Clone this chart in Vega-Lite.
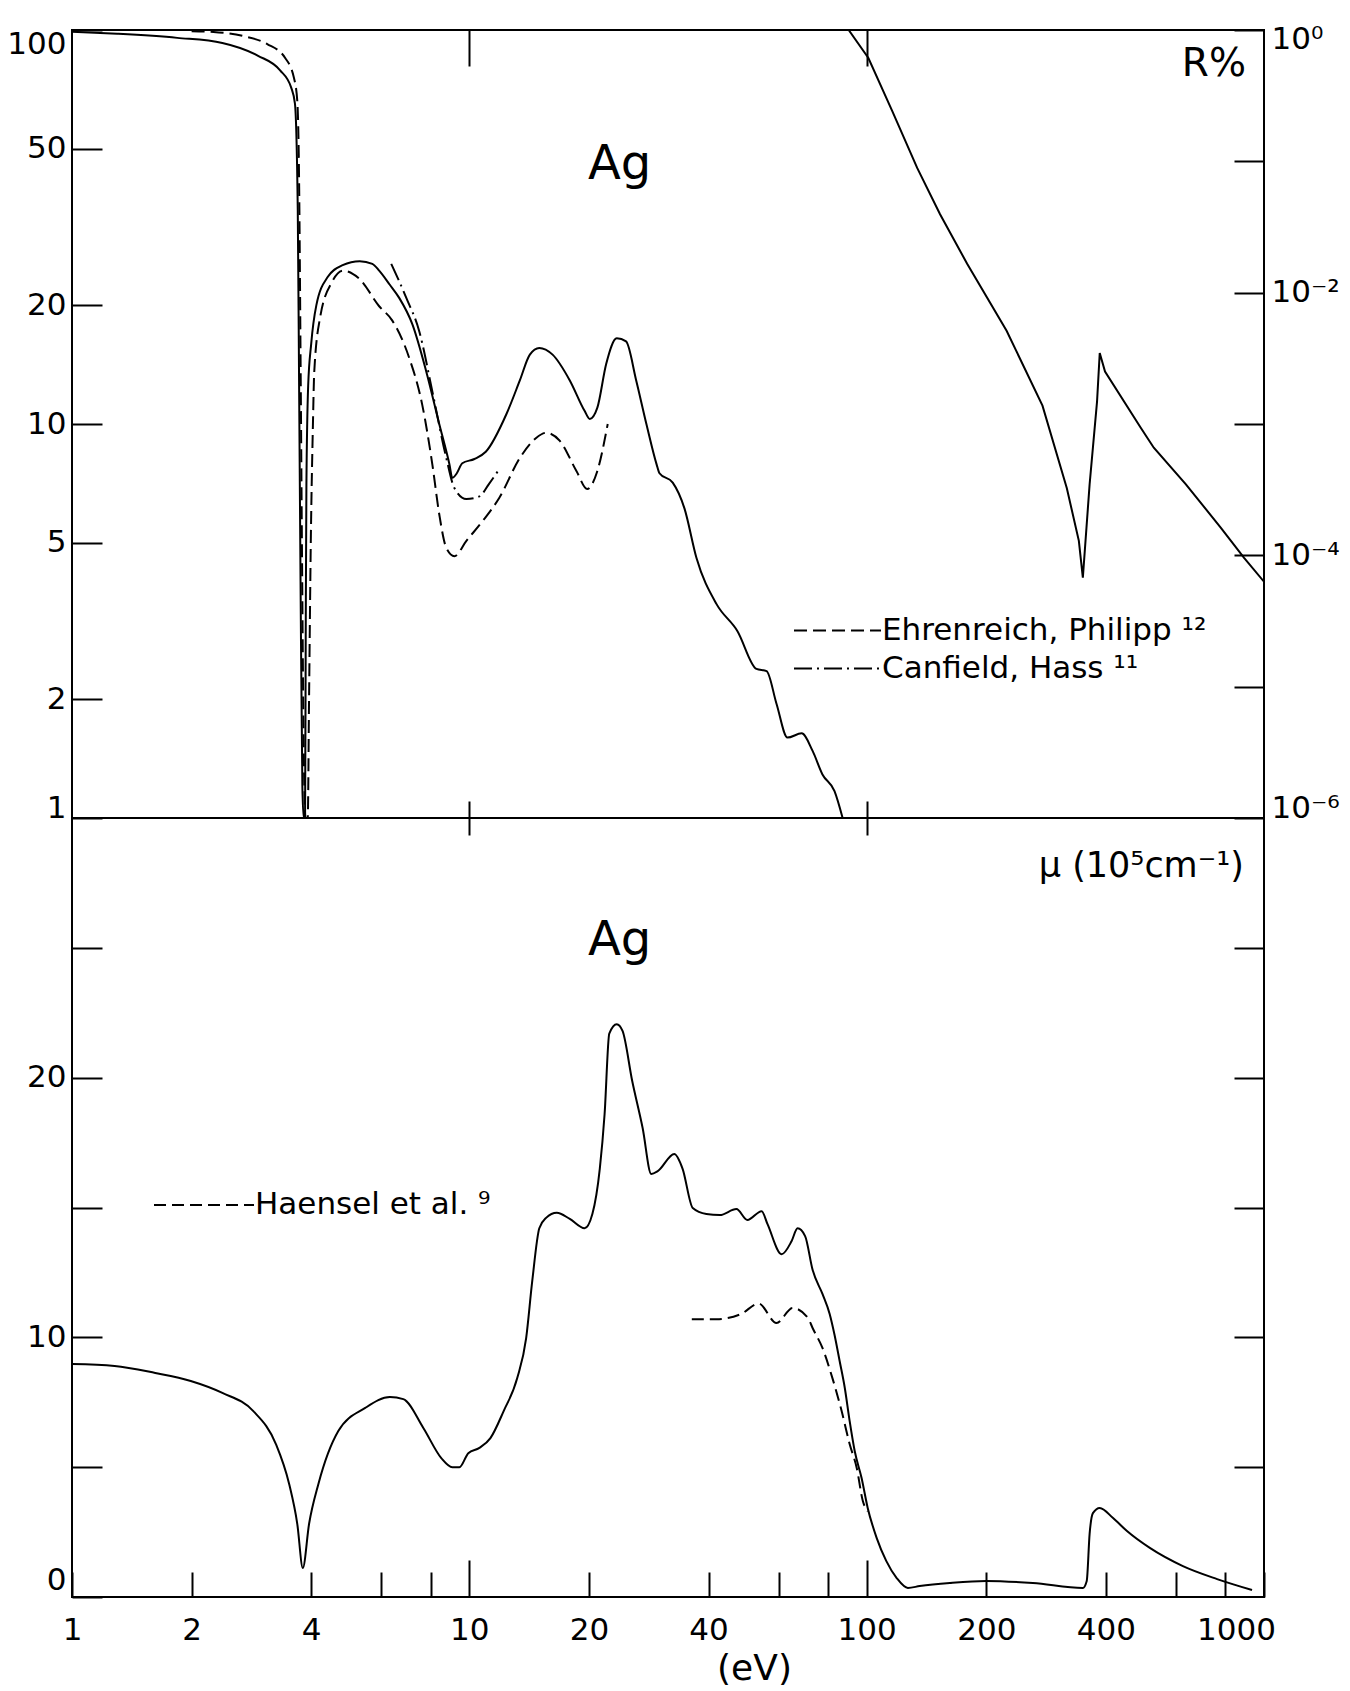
{
  "$schema": "https://vega.github.io/schema/vega-lite/v6.json",
  "background": "white",
  "padding": {"left": 5, "top": 22, "right": 5, "bottom": 5},
  "spacing": 0,
  "bounds": "flush",
  "config": {
    "font": "DejaVu Sans",
    "view": {"stroke": "black", "strokeWidth": 2},
    "axis": {"domain": false, "grid": false, "tickColor": "black", "tickWidth": 2, "labelColor": "black", "labelFontSize": 31, "labelFont": "DejaVu Sans", "titleColor": "black", "labelFlush": false, "labelOverlap": false, "labelBound": false},
    "line": {"color": "black", "strokeWidth": 2},
    "text": {"color": "black"},
    "legend": {"title": null, "orient": "none", "symbolType": "stroke", "symbolStrokeWidth": 2, "symbolStrokeColor": "black", "labelFontSize": 31, "labelFont": "DejaVu Sans", "labelColor": "black", "labelOffset": 0, "labelLimit": 800, "padding": 0}
  },
  "datasets": {
    "upperCalc": [
      {"E": 1.0, "R": 99}, {"E": 1.3, "R": 97.8}, {"E": 1.84, "R": 95.5}, {"E": 2.39, "R": 92.7}, {"E": 2.94, "R": 86}, {"E": 3.34, "R": 79}, {"E": 3.56, "R": 71.5}, {"E": 3.64, "R": 65}, {"E": 3.70, "R": 35}, {"E": 3.73, "R": 12}, {"E": 3.76, "R": 4}, {"E": 3.80, "R": 1.2}, {"E": 3.83, "R": 1.0}, {"E": 3.86, "R": 1.0}, {"E": 3.875, "R": 3}, {"E": 3.89, "R": 7}, {"E": 3.93, "R": 12.5}, {"E": 4.0, "R": 16}, {"E": 4.12, "R": 20}, {"E": 4.4, "R": 23.6}, {"E": 4.8, "R": 25.3}, {"E": 5.3, "R": 25.9}, {"E": 5.7, "R": 25.5}, {"E": 5.93, "R": 24.5}, {"E": 6.3, "R": 22.6}, {"E": 6.66, "R": 20.9}, {"E": 7.19, "R": 17.9}, {"E": 7.79, "R": 13.6}, {"E": 8.4, "R": 10}, {"E": 8.91, "R": 7.9}, {"E": 9.06, "R": 7.3}, {"E": 9.3, "R": 7.5}, {"E": 9.6, "R": 7.95}, {"E": 10.3, "R": 8.15}, {"E": 11.0, "R": 8.5}, {"E": 12.4, "R": 10.6}, {"E": 13.4, "R": 12.9}, {"E": 14.2, "R": 15.0}, {"E": 15.0, "R": 15.6}, {"E": 16.2, "R": 15.0}, {"E": 17.9, "R": 12.9}, {"E": 19.5, "R": 10.8}, {"E": 20.1, "R": 10.3}, {"E": 21.0, "R": 11.0}, {"E": 22.1, "R": 14.2}, {"E": 23.5, "R": 16.5}, {"E": 24.8, "R": 16.2}, {"E": 26.3, "R": 12.9}, {"E": 27.9, "R": 10.0}, {"E": 29.6, "R": 7.9}, {"E": 30.1, "R": 7.5}, {"E": 32.5, "R": 7.1}, {"E": 34.8, "R": 6.1}, {"E": 37.3, "R": 4.57}, {"E": 41.9, "R": 3.49}, {"E": 47.3, "R": 2.98}, {"E": 52.8, "R": 2.39}, {"E": 56, "R": 2.36}, {"E": 59.3, "R": 1.95}, {"E": 63.2, "R": 1.6}, {"E": 68.6, "R": 1.64}, {"E": 73.1, "R": 1.48}, {"E": 77.4, "R": 1.29}, {"E": 83.0, "R": 1.17}, {"E": 87.0, "R": 1.0}
    ],
    "upperEP": [
      {"E": 2.0, "R": 99.3, "src": "EP"}, {"E": 2.27, "R": 98.9, "src": "EP"}, {"E": 2.7, "R": 96.5, "src": "EP"}, {"E": 3.1, "R": 92.1, "src": "EP"}, {"E": 3.44, "R": 84.9, "src": "EP"}, {"E": 3.62, "R": 75.5, "src": "EP"}, {"E": 3.69, "R": 66, "src": "EP"}, {"E": 3.73, "R": 40, "src": "EP"}, {"E": 3.76, "R": 15, "src": "EP"}, {"E": 3.79, "R": 5, "src": "EP"}, {"E": 3.83, "R": 1.5, "src": "EP"}, {"E": 3.87, "R": 1.0, "src": "EP"}, {"E": 3.92, "R": 1.0, "src": "EP"}, {"E": 3.95, "R": 2, "src": "EP"}, {"E": 3.99, "R": 5, "src": "EP"}, {"E": 4.04, "R": 10, "src": "EP"}, {"E": 4.07, "R": 13.5, "src": "EP"}, {"E": 4.21, "R": 18.6, "src": "EP"}, {"E": 4.52, "R": 23.0, "src": "EP"}, {"E": 4.81, "R": 24.5, "src": "EP"}, {"E": 5.3, "R": 23.3, "src": "EP"}, {"E": 5.93, "R": 19.9, "src": "EP"}, {"E": 6.4, "R": 18.3, "src": "EP"}, {"E": 7.06, "R": 14.7, "src": "EP"}, {"E": 7.61, "R": 11.2, "src": "EP"}, {"E": 8.07, "R": 7.9, "src": "EP"}, {"E": 8.4, "R": 5.9, "src": "EP"}, {"E": 8.75, "R": 4.85, "src": "EP"}, {"E": 9.17, "R": 4.62, "src": "EP"}, {"E": 9.83, "R": 5.05, "src": "EP"}, {"E": 10.8, "R": 5.67, "src": "EP"}, {"E": 11.9, "R": 6.5, "src": "EP"}, {"E": 13.4, "R": 8.2, "src": "EP"}, {"E": 14.7, "R": 9.2, "src": "EP"}, {"E": 15.6, "R": 9.5, "src": "EP"}, {"E": 16.9, "R": 9.06, "src": "EP"}, {"E": 18.6, "R": 7.6, "src": "EP"}, {"E": 19.8, "R": 6.84, "src": "EP"}, {"E": 21.0, "R": 7.6, "src": "EP"}, {"E": 22.3, "R": 10, "src": "EP"}
    ],
    "upperCH": [
      {"E": 6.36, "R": 25.5, "src": "CH"}, {"E": 6.94, "R": 20.9, "src": "CH"}, {"E": 7.48, "R": 17.2, "src": "CH"}, {"E": 8.07, "R": 12.1, "src": "CH"}, {"E": 8.75, "R": 8.2, "src": "CH"}, {"E": 9.17, "R": 6.88, "src": "CH"}, {"E": 9.83, "R": 6.45, "src": "CH"}, {"E": 10.6, "R": 6.55, "src": "CH"}, {"E": 11.2, "R": 7.04, "src": "CH"}, {"E": 11.9, "R": 7.69, "src": "CH"}
    ],
    "upperR": [
      {"E": 90.1, "Rf": 1.0}, {"E": 101, "Rf": 0.612}, {"E": 116, "Rf": 0.2415}, {"E": 134, "Rf": 0.0891}, {"E": 153, "Rf": 0.0396}, {"E": 179, "Rf": 0.0166}, {"E": 225, "Rf": 0.00513}, {"E": 277, "Rf": 0.00138}, {"E": 319, "Rf": 0.000324}, {"E": 342, "Rf": 0.000129}, {"E": 350, "Rf": 0.0000676}, {"E": 364, "Rf": 0.000347}, {"E": 380, "Rf": 0.00148}, {"E": 386, "Rf": 0.00347}, {"E": 398, "Rf": 0.00251}, {"E": 490, "Rf": 0.000933}, {"E": 528, "Rf": 0.00066}, {"E": 636, "Rf": 0.000347}, {"E": 779, "Rf": 0.000162}, {"E": 891, "Rf": 0.0000955}, {"E": 1000, "Rf": 0.000063}
    ],
    "lowerCalc": [
      {"E": 1.0, "mu": 8.97}, {"E": 1.28, "mu": 8.9}, {"E": 1.62, "mu": 8.63}, {"E": 1.99, "mu": 8.32}, {"E": 2.39, "mu": 7.86}, {"E": 2.86, "mu": 7.16}, {"E": 3.26, "mu": 5.89}, {"E": 3.52, "mu": 4.35}, {"E": 3.69, "mu": 2.81}, {"E": 3.81, "mu": 1.12}, {"E": 3.95, "mu": 2.81}, {"E": 4.17, "mu": 4.35}, {"E": 4.68, "mu": 6.39}, {"E": 5.47, "mu": 7.28}, {"E": 6.31, "mu": 7.7}, {"E": 6.82, "mu": 7.62}, {"E": 7.66, "mu": 6.51}, {"E": 8.5, "mu": 5.35}, {"E": 9.06, "mu": 5.0}, {"E": 9.44, "mu": 5.0}, {"E": 9.94, "mu": 5.54}, {"E": 10.6, "mu": 5.74}, {"E": 11.3, "mu": 6.12}, {"E": 12.2, "mu": 7.16}, {"E": 13.2, "mu": 8.43}, {"E": 13.9, "mu": 9.97}, {"E": 14.4, "mu": 12.17}, {"E": 15.0, "mu": 14.2}, {"E": 15.6, "mu": 14.6}, {"E": 16.6, "mu": 14.8}, {"E": 17.9, "mu": 14.56}, {"E": 19.5, "mu": 14.2}, {"E": 20.4, "mu": 14.75}, {"E": 21.3, "mu": 16.5}, {"E": 21.9, "mu": 18.6}, {"E": 22.5, "mu": 21.7}, {"E": 23.5, "mu": 22.06}, {"E": 24.3, "mu": 21.8}, {"E": 25.7, "mu": 19.87}, {"E": 27.3, "mu": 18.06}, {"E": 28.7, "mu": 16.29}, {"E": 29.8, "mu": 16.4}, {"E": 32.8, "mu": 17.06}, {"E": 34.4, "mu": 16.5}, {"E": 36.5, "mu": 14.98}, {"E": 39.5, "mu": 14.75}, {"E": 42.7, "mu": 14.71}, {"E": 47.0, "mu": 14.94}, {"E": 50.1, "mu": 14.52}, {"E": 54.4, "mu": 14.86}, {"E": 56.3, "mu": 14.36}, {"E": 61.1, "mu": 13.2}, {"E": 64.7, "mu": 13.7}, {"E": 67.0, "mu": 14.2}, {"E": 70.0, "mu": 13.9}, {"E": 73.1, "mu": 12.6}, {"E": 77.4, "mu": 11.67}, {"E": 80.7, "mu": 10.9}, {"E": 83, "mu": 10.1}, {"E": 85.5, "mu": 9.09}, {"E": 88.1, "mu": 8.05}, {"E": 90.6, "mu": 6.78}, {"E": 93.3, "mu": 5.62}, {"E": 97.1, "mu": 4.58}, {"E": 100.6, "mu": 3.43}, {"E": 106, "mu": 2.27}, {"E": 112, "mu": 1.39}, {"E": 119, "mu": 0.73}, {"E": 127, "mu": 0.35}, {"E": 136, "mu": 0.42}, {"E": 162, "mu": 0.54}, {"E": 200, "mu": 0.62}, {"E": 262, "mu": 0.54}, {"E": 350, "mu": 0.35}, {"E": 358, "mu": 0.62}, {"E": 364, "mu": 2.43}, {"E": 371, "mu": 3.23}, {"E": 386, "mu": 3.43}, {"E": 417, "mu": 3.04}, {"E": 452, "mu": 2.54}, {"E": 516, "mu": 1.89}, {"E": 625, "mu": 1.19}, {"E": 762, "mu": 0.69}, {"E": 933, "mu": 0.27}
    ],
    "lowerHaensel": [
      {"E": 36.3, "mu": 10.7, "src": "Haensel"}, {"E": 41.9, "mu": 10.7, "src": "Haensel"}, {"E": 48.3, "mu": 10.9, "src": "Haensel"}, {"E": 53.5, "mu": 11.3, "src": "Haensel"}, {"E": 59.3, "mu": 10.55, "src": "Haensel"}, {"E": 65.1, "mu": 11.13, "src": "Haensel"}, {"E": 71.2, "mu": 10.74, "src": "Haensel"}, {"E": 73.1, "mu": 10.36, "src": "Haensel"}, {"E": 77.4, "mu": 9.59, "src": "Haensel"}, {"E": 82, "mu": 8.43, "src": "Haensel"}, {"E": 86.5, "mu": 7.16, "src": "Haensel"}, {"E": 90.6, "mu": 5.89, "src": "Haensel"}, {"E": 94.4, "mu": 4.97, "src": "Haensel"}, {"E": 97.8, "mu": 3.7, "src": "Haensel"}, {"E": 100.6, "mu": 3.3, "src": "Haensel"}
    ]
  },
  "resolve": {"scale": {"strokeDash": "independent"}, "legend": {"strokeDash": "independent"}},
  "vconcat": [
    {
      "width": 1192,
      "height": 788,
      "resolve": {"scale": {"y": "independent"}, "axis": {"x": "independent", "y": "independent"}},
      "layer": [
        {
          "resolve": {"scale": {"strokeDash": "independent"}, "legend": {"strokeDash": "independent"}},
          "layer": [
            {
              "data": {"name": "upperCalc"},
              "mark": {"type": "line", "interpolate": "monotone", "clip": true, "color": "black", "strokeWidth": 2},
              "encoding": {
                "x": {"field": "E", "type": "quantitative", "scale": {"type": "log", "domain": [1, 1000]}, "axis": {"orient": "top", "values": [10, 100], "tickSize": -36, "labels": false, "title": null}},
                "y": {"field": "R", "type": "quantitative", "scale": {"type": "log", "domain": [1, 100]}, "axis": {"orient": "left", "values": [1, 2, 5, 10, 20, 50, 100], "tickSize": -30, "labelPadding": 36, "format": "d", "title": null, "labelOffset": {"condition": [{"test": "datum.value == 100", "value": 14}, {"test": "datum.value == 1", "value": -10}], "value": 0}}}
              }
            },
            {
              "data": {"name": "upperEP"},
              "mark": {"type": "line", "interpolate": "monotone", "clip": true, "color": "black", "strokeWidth": 2},
              "encoding": {
                "x": {"field": "E", "type": "quantitative"},
                "y": {"field": "R", "type": "quantitative"},
                "strokeDash": {"field": "src", "type": "nominal", "scale": {"domain": ["EP"], "range": [[13, 6]]}, "legend": {"labelExpr": "'Ehrenreich, Philipp ¹²'", "legendX": 721, "legendY": 556, "symbolSize": 7569}}
              }
            },
            {
              "data": {"name": "upperCH"},
              "mark": {"type": "line", "interpolate": "monotone", "clip": true, "color": "black", "strokeWidth": 2},
              "encoding": {
                "x": {"field": "E", "type": "quantitative"},
                "y": {"field": "R", "type": "quantitative"},
                "strokeDash": {"field": "src", "type": "nominal", "scale": {"domain": ["CH"], "range": [[18, 5, 2, 5]]}, "legend": {"labelExpr": "'Canfield, Hass ¹¹'", "legendX": 721, "legendY": 594, "symbolSize": 7569}}
              }
            },
            {
              "data": {"values": [{}]},
              "mark": {"type": "text", "text": "Ag", "fontSize": 48, "align": "center", "baseline": "middle", "font": "DejaVu Sans"},
              "encoding": {"x": {"datum": 23.9, "type": "quantitative"}, "y": {"datum": 45.4, "type": "quantitative"}}
            },
            {
              "data": {"values": [{}]},
              "mark": {"type": "text", "text": "R%", "fontSize": 39, "align": "right", "baseline": "middle", "font": "DejaVu Sans"},
              "encoding": {"x": {"datum": 901, "type": "quantitative"}, "y": {"datum": 82, "type": "quantitative"}}
            }
          ]
        },
        {
          "data": {"name": "upperR"},
          "mark": {"type": "line", "interpolate": "linear", "clip": true, "color": "black", "strokeWidth": 2},
          "encoding": {
            "x": {"field": "E", "type": "quantitative", "scale": {"type": "log", "domain": [1, 1000]}, "axis": {"orient": "bottom", "values": [10, 100], "tickSize": -17, "labels": false, "title": null, "minExtent": 0, "maxExtent": 0}},
            "y": {"field": "Rf", "type": "quantitative", "scale": {"type": "log", "domain": [0.000001, 1]}, "axis": {"orient": "right", "values": [1, 0.1, 0.01, 0.001, 0.0001, 0.00001, 0.000001], "tickSize": -30, "labelPadding": 37, "title": null, "labelExpr": "['10⁰', '', '10⁻²', '', '10⁻⁴', '', '10⁻⁶'][-round(log(datum.value) / LN10)]", "labelOffset": {"condition": [{"test": "datum.value > 0.5", "value": 9}, {"test": "datum.value < 0.000002", "value": -10}], "value": 0}}}
          }
        }
      ]
    },
    {
      "width": 1192,
      "height": 779,
      "resolve": {"axis": {"x": "independent", "y": "independent"}},
      "layer": [
        {
          "layer": [
            {
              "data": {"name": "lowerCalc"},
              "mark": {"type": "line", "interpolate": "monotone", "clip": true, "color": "black", "strokeWidth": 2},
              "encoding": {
                "x": {"field": "E", "type": "quantitative", "scale": {"type": "log", "domain": [1, 1000]}, "axis": {"orient": "bottom", "values": [1, 2, 4, 6, 8, 10, 20, 40, 60, 80, 100, 200, 400, 600, 800, 1000], "tickSize": {"condition": {"test": "datum.value == 10 || datum.value == 100", "value": -37}, "value": -25}, "labelPadding": {"condition": {"test": "datum.value == 10 || datum.value == 100", "value": 55}, "value": 43}, "labelExpr": "indexof([1, 2, 4, 10, 20, 40, 100, 200, 400, 1000], datum.value) >= 0 ? format(datum.value, 'd') : ''", "labelOffset": {"condition": {"test": "datum.value == 1000", "value": -28}, "value": 0}, "title": "(eV)", "titleFontSize": 36, "titleFont": "DejaVu Sans", "titleFontWeight": "normal", "titleX": 682, "titlePadding": 6}},
                "y": {"field": "mu", "type": "quantitative", "scale": {"domain": [0, 30]}, "axis": {"orient": "left", "values": [0, 5, 10, 15, 20, 25], "tickSize": -30, "labelPadding": 36, "title": null, "labelExpr": "datum.value == 0 || datum.value == 10 || datum.value == 20 ? datum.label : ''", "labelOffset": {"condition": {"test": "datum.value == 0", "value": -17}, "value": 0}}}
              }
            },
            {
              "data": {"values": [{}]},
              "mark": {"type": "text", "text": "Ag", "fontSize": 48, "align": "center", "baseline": "middle", "font": "DejaVu Sans"},
              "encoding": {"x": {"datum": 23.9, "type": "quantitative"}, "y": {"datum": 25.26, "type": "quantitative"}}
            },
            {
              "data": {"values": [{}]},
              "mark": {"type": "text", "text": "μ (10⁵cm⁻¹)", "fontSize": 35, "align": "right", "baseline": "middle", "font": "DejaVu Sans"},
              "encoding": {"x": {"datum": 890, "type": "quantitative"}, "y": {"datum": 28.15, "type": "quantitative"}}
            }
          ]
        },
        {
          "data": {"name": "lowerHaensel"},
          "mark": {"type": "line", "interpolate": "monotone", "clip": true, "color": "black", "strokeWidth": 2},
          "encoding": {
            "x": {"field": "E", "type": "quantitative", "scale": {"type": "log", "domain": [1, 1000]}, "axis": {"orient": "top", "values": [10, 100], "tickSize": -17, "labels": false, "title": null, "minExtent": 0, "maxExtent": 0}},
            "y": {"field": "mu", "type": "quantitative", "scale": {"domain": [0, 30]}, "axis": {"orient": "right", "values": [5, 10, 15, 20, 25], "tickSize": -30, "labels": false, "title": null}},
            "strokeDash": {"field": "src", "type": "nominal", "scale": {"domain": ["Haensel"], "range": [[12, 6]]}, "legend": {"labelExpr": "'Haensel et al. ⁹'", "legendX": 81, "legendY": 336, "symbolSize": 10000}}
          }
        }
      ]
    }
  ]
}
